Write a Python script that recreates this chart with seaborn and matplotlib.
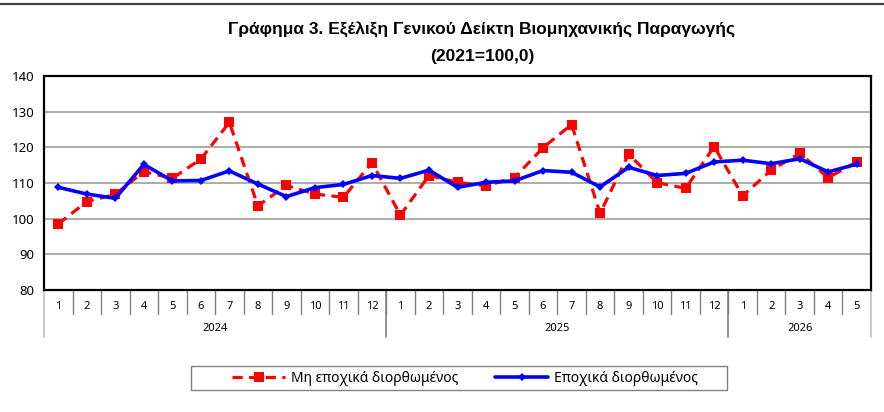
import matplotlib
matplotlib.use("Agg")
import matplotlib.pyplot as plt
import matplotlib.transforms as mtransforms
import matplotlib.patches as mpatches
import seaborn as sns
import pandas as pd

# Δεδομένα (ανάγνωση από το γράφημα)
years = ["2024", "2025", "2026"]
months_per_year = [12, 12, 5]
month_labels = [str(m) for m in range(1, 13)] * 2 + [str(m) for m in range(1, 6)]

non_sa = [98.5, 104.8, 106.8, 113.2, 111.3, 116.7, 127.0, 103.6, 109.3, 106.9, 106.0, 115.7,
          101.0, 112.1, 110.2, 109.2, 111.5, 119.9, 126.4, 101.5, 118.1, 110.1, 108.5, 120.2,
          106.4, 113.6, 118.3, 111.5, 115.9]
sa = [108.8, 106.9, 105.7, 115.2, 110.6, 110.7, 113.4, 109.7, 106.2, 108.7, 109.6, 112.1,
      111.3, 113.6, 108.8, 110.2, 110.6, 113.5, 113.0, 108.9, 114.4, 112.1, 112.7, 115.9,
      116.4, 115.4, 116.8, 113.1, 115.3]

label_nsa = "Μη εποχικά διορθωμένος"
label_sa = "Εποχικά διορθωμένος"

df = pd.DataFrame({"pos": range(len(month_labels)), "nsa": non_sa, "sa": sa})

sns.set_style("white")
plt.rcParams["font.family"] = ["Noto Sans", "DejaVu Sans"]
plt.rcParams["text.color"] = "black"
plt.rcParams["ytick.color"] = "black"

fig = plt.figure(figsize=(8.84, 4.12), dpi=100)
ax = fig.add_axes([44 / 884, 1 - 290 / 412, (871 - 44) / 884, (290 - 76) / 412])

sns.lineplot(data=df, x="pos", y="nsa", ax=ax, color="#ff0000", marker="s",
             markersize=6.5, markeredgewidth=0, lw=2.3, label=label_nsa, zorder=3)
ax.lines[-1].set_dashes((3.2, 2.0))
sns.lineplot(data=df, x="pos", y="sa", ax=ax, color="#0000ff", marker="D",
             markersize=4, markeredgewidth=0, lw=2.6, label=label_sa, zorder=4)

ax.set_xlim(-0.5, len(month_labels) - 0.5)
ax.set_ylim(80, 140)
ax.set_yticks(range(80, 141, 10))
ax.tick_params(axis="y", labelsize=9.5, length=4, width=1, color="#000000", labelcolor="black",
               direction="out", pad=3)
ax.set_xticks([])
ax.set_xlabel("")
ax.set_ylabel("")
for y in range(90, 140, 10):
    ax.axhline(y, color="#a6a6a6", lw=1.3, zorder=1)
for s in ax.spines.values():
    s.set_color("#000000")
    s.set_linewidth(1.6)
    s.set_visible(True)

# Άξονας κατηγοριών (μήνες / έτη)
trans = mtransforms.blended_transform_factory(ax.transData, ax.transAxes)
for i, m in enumerate(month_labels):
    ax.text(i, -0.079, m, transform=trans, ha="center", va="center", fontsize=8)
    if i > 0:
        ax.plot([i - 0.5, i - 0.5], [0, -0.112], transform=trans, color="#808080", lw=1, clip_on=False)

start = 0
bounds = [-0.5]
for yr, n in zip(years, months_per_year):
    ax.text(start + (n - 1) / 2, -0.178, yr, transform=trans, ha="center", va="center", fontsize=8)
    start += n
    bounds.append(start - 0.5)
for b in bounds:
    c = "#bfbfbf" if b in (bounds[0], bounds[-1]) else "#808080"
    ax.plot([b, b], [0, -0.22], transform=trans, color=c, lw=1.2, clip_on=False)

# Υπόμνημα
ax.get_legend().remove()
handles, labels = ax.get_legend_handles_labels()
leg = fig.legend(handles, labels, loc="center", bbox_to_anchor=(465 / 884, 1 - 378 / 412), ncol=2,
                 fontsize=10, frameon=False, handlelength=3.8, columnspacing=2.7,
                 borderpad=0.2, handletextpad=0.4)
fig.patches.append(mpatches.Rectangle((191 / 884, 1 - 390 / 412), (727 - 191) / 884, 24 / 412,
                                      transform=fig.transFigure, fill=False,
                                      edgecolor="#808080", lw=1, zorder=0))

fig.text(482 / 884, 1 - 30 / 412, "Γράφημα 3. Εξέλιξη Γενικού Δείκτη Βιομηχανικής Παραγωγής",
         ha="center", va="center", fontsize=12.5, fontweight="bold", family=["Liberation Sans", "DejaVu Sans"])
fig.text(482 / 884, 1 - 56 / 412, "(2021=100,0)", ha="center", va="center", fontsize=12.5,
         fontweight="bold", family=["Liberation Sans", "DejaVu Sans"])

# γραμμή στο πάνω άκρο
fig.add_artist(plt.Line2D([0, 1], [1 - 4 / 412, 1 - 4 / 412], color="#404040", lw=1.6, transform=fig.transFigure))

fig.savefig("out.png", dpi=100)
